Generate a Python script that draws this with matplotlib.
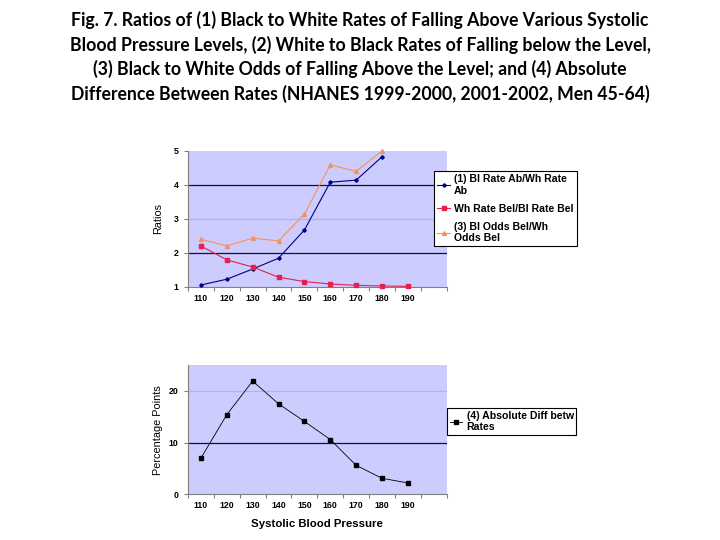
import matplotlib
matplotlib.use("Agg")
import matplotlib.pyplot as plt
import numpy as np

# ---------- data ----------
sbp = ["110", "120", "130", "140", "150", "160", "170", "180", "190"]
bl_rate_ab = [1.05, 1.22, 1.52, 1.84, 2.67, 4.08, 4.14, 4.83]          # (1)
wh_rate_bel = [2.20, 1.79, 1.58, 1.28, 1.15, 1.08, 1.04, 1.02, 1.01]   # (2)
bl_odds_bel = [2.40, 2.20, 2.43, 2.35, 3.14, 4.59, 4.40, 5.00]         # (3)
abs_diff = [7.0, 15.4, 21.9, 17.5, 14.1, 10.6, 5.6, 3.1, 2.2]          # (4)

labels_top = ["(1) Bl Rate Ab/Wh Rate\nAb", "Wh Rate Bel/Bl Rate Bel",
              "(3) Bl Odds Bel/Wh\nOdds Bel"]
label_bot = "(4) Absolute Diff betw\nRates"

title = ("Fig. 7. Ratios of (1) Black to White Rates of Falling Above Various Systolic\n"
         "Blood Pressure Levels, (2) White to Black Rates of Falling below the Level,\n"
         "(3) Black to White Odds of Falling Above the Level; and (4) Absolute\n"
         "Difference Between Rates (NHANES 1999-2000, 2001-2002, Men 45-64)")

# ---------- style ----------
BG = "#CCCCFF"; NAVY = "#000080"; RED = "#E6204A"; ORANGE = "#F4925A"
plt.rcParams["font.family"] = "Liberation Sans"

fig = plt.figure(figsize=(7.2, 5.4), dpi=100)
fig.text(0.5, 0.979, title, ha="center", va="top", fontsize=12.7,
         fontweight="bold", family="Lato", linespacing=1.42)


def style_axes(ax, ylim, yticks, dark, faint):
    n = len(sbp)
    ax.set_facecolor(BG)
    ax.set_xlim(-0.5, n + 0.5)
    ax.set_ylim(*ylim)
    for s in ["top", "right"]:
        ax.spines[s].set_visible(False)
    for s in ["left", "bottom"]:
        ax.spines[s].set_color("#808080")
        ax.spines[s].set_linewidth(0.8)
    ax.set_xticks(np.arange(-0.5, n + 1, 1.0))
    ax.set_xticklabels([])
    ax.set_xticks(np.arange(n), minor=True)
    ax.set_xticklabels(sbp, minor=True, fontsize=6.3, fontweight="bold")
    ax.tick_params(axis="x", which="major", length=3, color="#808080")
    ax.tick_params(axis="x", which="minor", length=0, pad=5)
    ax.set_yticks(yticks)
    ax.set_yticklabels([str(v) for v in yticks], fontsize=6.3, fontweight="bold")
    ax.tick_params(axis="y", length=3, color="#808080", pad=4)
    for v in dark:
        ax.axhline(v, color="#101030", lw=0.9, zorder=1)
    for v in faint:
        ax.axhline(v, color="#B4B4EC", lw=0.9, zorder=1)


# ---------- top panel: ratios ----------
ax1 = fig.add_axes([0.2611, 0.4691, 0.3593, 0.2513])
style_axes(ax1, (1, 5), [1, 2, 3, 4, 5], dark=[2, 4], faint=[3])
x = np.arange(len(sbp))
l1, = ax1.plot(x[:len(bl_rate_ab)], bl_rate_ab, color=NAVY, lw=0.8, marker="D",
               ms=1.8, zorder=3, clip_on=False)
l2, = ax1.plot(x[:len(wh_rate_bel)], wh_rate_bel, color=RED, lw=0.8, marker="s",
               ms=2.6, zorder=3, clip_on=False)
l3, = ax1.plot(x[:len(bl_odds_bel)], bl_odds_bel, color=ORANGE, lw=0.8, marker="^",
               ms=2.8, zorder=3, clip_on=False)
ax1.set_ylabel("Ratios", fontsize=7.8)
ax1.yaxis.set_label_coords(-0.097, 0.5)
leg1 = fig.legend([l1, l2, l3], labels_top, loc="upper left",
                  bbox_to_anchor=(434 / 720, 1 - 171 / 540), borderaxespad=0,
                  prop={"weight": "bold", "size": 7.6},
                  handlelength=1.2, handletextpad=0.4, labelspacing=0.75,
                  borderpad=0.3, fancybox=False, framealpha=1,
                  edgecolor="black")
leg1.get_frame().set_linewidth(0.8)

# ---------- bottom panel: absolute difference ----------
ax2 = fig.add_axes([0.2611, 0.0846, 0.3593, 0.2394])
style_axes(ax2, (0, 25), [0, 10, 20], dark=[10], faint=[20])
l4, = ax2.plot(x, abs_diff, color="black", lw=0.6, marker="s", ms=2.6,
               zorder=3)
ax2.set_ylabel("Percentage Points", fontsize=7.8)
ax2.yaxis.set_label_coords(-0.097, 0.5)
ax2.set_xlabel("Systolic Blood Pressure", fontsize=8.2, fontweight="bold",
               labelpad=6)
leg2 = fig.legend([l4], [label_bot], loc="upper left",
                  bbox_to_anchor=(447 / 720, 1 - 408 / 540), borderaxespad=0,
                  prop={"weight": "bold", "size": 7.6},
                  handlelength=1.2, handletextpad=0.4, borderpad=0.25,
                  fancybox=False, framealpha=1, edgecolor="black")
leg2.get_frame().set_linewidth(0.8)

plt.savefig("out.png", dpi=100, facecolor="white")
